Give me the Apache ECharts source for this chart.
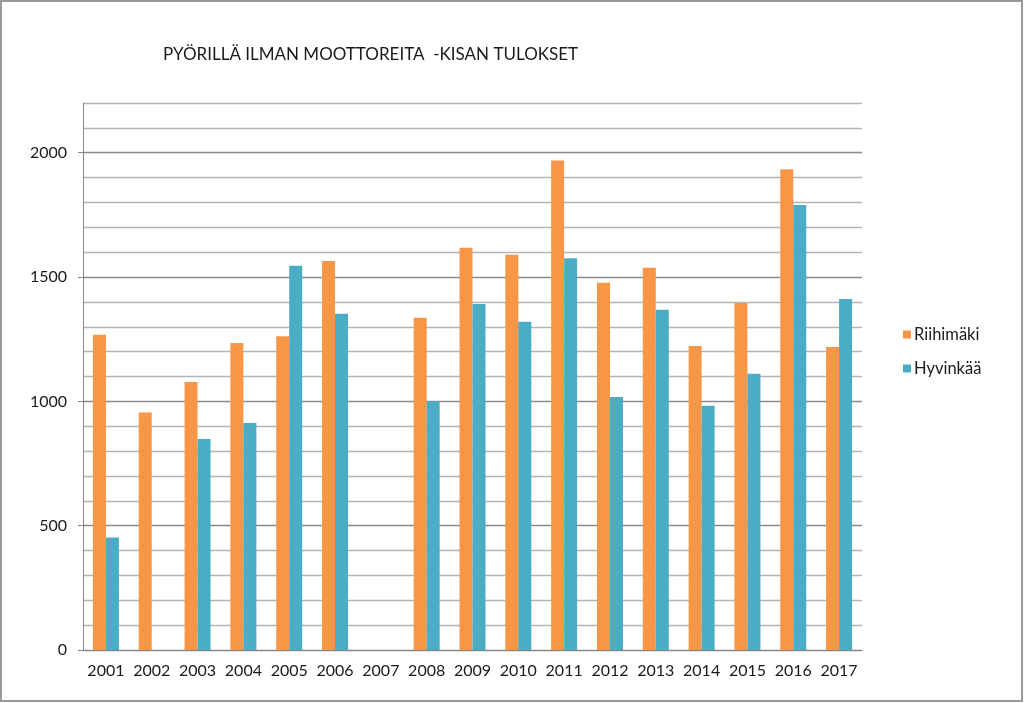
<!DOCTYPE html>
<html>
<head>
<meta charset="utf-8">
<script src="https://cdn.jsdelivr.net/npm/echarts@6/dist/echarts.min.js"></script>
<style>
  html, body { margin: 0; padding: 0; background: #fff; }
  #chart { width: 1024px; height: 703px; }
</style>
</head>
<body>
<div id="chart"></div>
<script>
var years = ['2001','2002','2003','2004','2005','2006','2007','2008','2009','2010','2011','2012','2013','2014','2015','2016','2017'];
var riihimaki = [1268, 955, 1078, 1235, 1262, 1565, null, 1336, 1618, 1590, 1969, 1477, 1537, 1223, 1396, 1934, 1219];
var hyvinkaa = [452, null, 849, 913, 1545, 1352, null, 1000, 1392, 1320, 1576, 1018, 1368, 982, 1111, 1790, 1412];
var yMax = 2200;

var chart = echarts.init(document.getElementById('chart'));

var option = {
  animation: false,
  textStyle: { fontFamily: 'Lato' },
  title: {
    text: 'PYÖRILLÄ ILMAN MOOTTOREITA  -KISAN TULOKSET',
    left: 158,
    top: 41,
    textStyle: { fontFamily: 'Lato', fontSize: 17, fontWeight: 'normal', color: '#1a1a1a' }
  },
  legend: {
    orient: 'vertical',
    left: 898,
    top: 321,
    itemWidth: 8,
    itemHeight: 8,
    itemGap: 17,
    icon: 'rect',
    data: ['Riihimäki', 'Hyvinkää'],
    textStyle: { fontFamily: 'Lato', fontSize: 16.5, color: '#1a1a1a', padding: [0, 0, 0, -2] }
  },
  graphic: [{
    type: 'rect',
    shape: { x: 1, y: 1, width: 1021, height: 700 },
    style: { fill: 'none', stroke: '#9a9a9a', lineWidth: 2 },
    silent: true
  }],
  grid: { left: 83, right: 162, top: 103, bottom: 53 },
  xAxis: {
    type: 'category',
    data: years,
    axisLine: { lineStyle: { color: '#868686', width: 1 } },
    axisTick: { length: 5, lineStyle: { color: '#868686' } },
    axisLabel: { interval: 0, hideOverlap: false, fontFamily: 'Lato', fontSize: 16, color: '#1a1a1a', margin: 13 }
  },
  yAxis: [{
    type: 'value',
    min: 0,
    max: yMax,
    interval: 100,
    axisLine: { show: false },
    axisTick: { show: false },
    axisLabel: { show: false },
    splitLine: { lineStyle: { color: ['#8a8a8a', '#b4b4b4', '#b4b4b4', '#b4b4b4', '#b4b4b4'], width: 1.3 } }
  }, {
    type: 'value',
    position: 'left',
    min: 0,
    max: yMax,
    interval: 500,
    axisLine: { show: true, lineStyle: { color: '#868686' } },
    axisTick: { show: true, length: 5, lineStyle: { color: '#868686' } },
    axisLabel: {
      fontFamily: 'Lato', fontSize: 16, color: '#1a1a1a', margin: 16,
      showMaxLabel: false,
      formatter: function (v) { return v % 500 === 0 ? v : ''; }
    },
    splitLine: { show: false }
  }],
  series: [{
    name: 'Riihimäki',
    type: 'bar',
    yAxisIndex: 0,
    data: riihimaki,
    barWidth: 13,
    barGap: '0%',
    itemStyle: { color: '#F79646' }
  }, {
    name: 'Hyvinkää',
    type: 'bar',
    yAxisIndex: 0,
    data: hyvinkaa,
    barWidth: 13,
    itemStyle: { color: '#4BACC6' }
  }]
};

chart.setOption(option);
</script>
</body>
</html>
